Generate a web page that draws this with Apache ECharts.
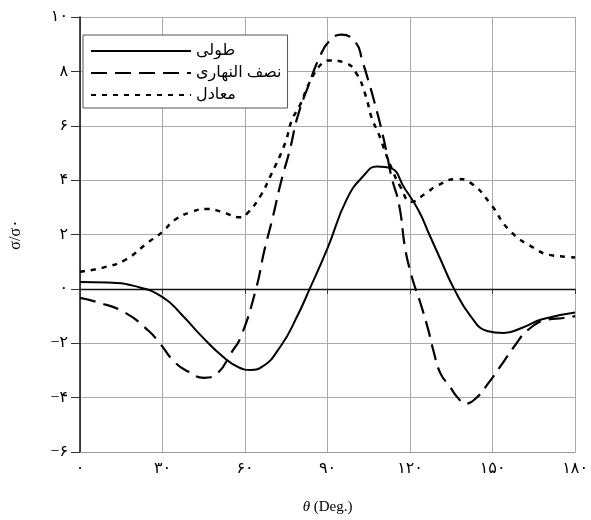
<!DOCTYPE html>
<html>
<head>
<meta charset="utf-8">
<script src="https://cdn.jsdelivr.net/npm/echarts@6/dist/echarts.min.js"></script>
<style>
  html, body { margin: 0; padding: 0; background: #fff; }
  #chart { width: 591px; height: 520px; }
</style>
</head>
<body>
<div id="chart"></div>
<script>
// نام سری‌ها
const seriesNames = ["طولی", "نصف النهاری", "معادل"];

// tick labels (Persian digits)
const xTickLabels = { 0: "۰", 30: "۳۰", 60: "۶۰", 90: "۹۰", 120: "۱۲۰", 150: "۱۵۰", 180: "۱۸۰" };
const yTickLabels = { 10: "۱۰", 8: "۸", 6: "۶", 4: "۴", 2: "۲", 0: "۰", "-2": "−۲", "-4": "−۴", "-6": "−۶" };

// طولی (solid)
const solidX = [0, 10, 20, 30, 37, 44, 52, 58, 62, 66, 73, 79, 83.5, 90, 97, 103, 108, 113, 118, 123, 127, 131, 136, 142, 148, 154, 161, 168, 180];
const solidY = [0.25, 0.23, 0.1, -0.3, -0.95, -1.72, -2.5, -2.9, -2.98, -2.88, -2.1, -1.0, 0, 1.5, 3.3, 4.15, 4.5, 4.44, 3.7, 2.9, 2.0, 1.1, 0, -1.0, -1.55, -1.62, -1.42, -1.12, -0.87];

// نصف النهاری (dashed)
const dashX = [0, 6, 16, 25, 29, 34.5, 39.5, 45, 50, 55, 58.5, 64, 67, 70, 73, 76.5, 79, 83.5, 87, 90.5, 95, 100.4, 102.6, 105, 107.5, 110, 111.5, 113.3, 116, 118.3, 120.5, 122, 123.7, 126.6, 128.4, 131, 134.5, 137.3, 140.2, 144.5, 148, 152.7, 157.8, 163, 169.6, 175.7, 180];
const dashY = [-0.33, -0.48, -0.85, -1.55, -2.0, -2.7, -3.05, -3.27, -3.1, -2.35, -1.76, 0, 1.4, 2.6, 3.9, 5.2, 6.3, 7.6, 8.5, 9.1, 9.35, 9.04, 8.4, 7.6, 6.7, 5.7, 5.0, 4.1, 3.1, 1.43, 0.5, 0, -0.5, -1.5, -2.24, -3.1, -3.6, -4.0, -4.22, -3.97, -3.53, -2.87, -2.13, -1.5, -1.14, -1.07, -1.0];

// معادل (dotted)
const dotX = [0, 9, 16.5, 25, 30, 34.5, 40.5, 46.5, 51, 58.5, 61, 65.5, 69, 74.6, 77, 80, 83.5, 88, 90.7, 96.8, 100.8, 104, 106, 108.6, 110.4, 113, 116.5, 120.5, 125.5, 130, 137, 142, 149, 156, 165, 170.7, 176.8, 180];
const dotY = [0.63, 0.8, 1.07, 1.73, 2.1, 2.54, 2.83, 2.94, 2.85, 2.63, 2.8, 3.4, 4.1, 5.37, 6.2, 6.76, 7.6, 8.3, 8.4, 8.3, 7.87, 7.06, 6.3, 5.7, 5.2, 4.5, 3.75, 3.2, 3.5, 3.8, 4.04, 3.9, 3.16, 2.17, 1.5, 1.25, 1.18, 1.15];

function zip(xs, ys) {
  return xs.map((x, i) => [x, ys[i]]);
}

const font = "'Liberation Serif', 'DejaVu Serif', 'DejaVu Sans', serif";

const myChart = echarts.init(document.getElementById("chart"));
myChart.setOption({
  animation: false,
  backgroundColor: "#fff",
  textStyle: { fontFamily: font },
  grid: { left: 77, right: 12, top: 17, bottom: 68 },
  legend: {
    orient: "vertical",
    left: 83,
    top: 35,
    itemWidth: 100,
    itemHeight: 14,
    itemGap: 6,
    padding: [8, 6, 5, 7],
    borderColor: "#555",
    borderWidth: 1,
    backgroundColor: "#fff",
    itemStyle: { opacity: 0 },
    data: seriesNames,
    textStyle: { fontFamily: font, fontSize: 16, color: "#000", padding: [0, 0, 5, 0] },
  },
  xAxis: [
    {
      type: "value",
      min: 0,
      max: 180,
      interval: 30,
      axisLine: { onZero: false, lineStyle: { color: "#999", width: 1 } },
      axisTick: { show: false },
      axisLabel: {
        color: "#000",
        fontSize: 16,
        margin: 9,
        formatter: (v) => xTickLabels[v] ?? "",
      },
      splitLine: { show: true, lineStyle: { color: "#aaa", width: 1 } },
      name: "{i|θ} (Deg.)",
      nameLocation: "middle",
      nameGap: 48,
      nameTextStyle: {
        color: "#000",
        fontSize: 15,
        rich: { i: { fontStyle: "italic", fontSize: 15, fontFamily: font } },
      },
    },
    {
      type: "value",
      min: 0,
      max: 180,
      interval: 30,
      position: "bottom",
      axisLine: { onZero: true, lineStyle: { color: "#111", width: 1.3 } },
      axisTick: { show: true, length: 5, lineStyle: { color: "#333" } },
      axisLabel: { show: false },
      splitLine: { show: false },
    },
  ],
  yAxis: {
    type: "value",
    min: -6,
    max: 10,
    interval: 2,
    axisLine: { show: true, lineStyle: { color: "#111", width: 1.5 } },
    axisTick: { show: true, length: 9, lineStyle: { color: "#333" } },
    axisLabel: {
      color: "#000",
      fontSize: 16,
      margin: 12,
      formatter: (v) => yTickLabels[v] ?? "",
    },
    splitLine: { show: true, lineStyle: { color: "#aaa", width: 1 } },
    name: "σ/σ۰",
    nameLocation: "middle",
    nameGap: 56,
    nameRotate: 90,
    nameTextStyle: { color: "#000", fontSize: 16 },
  },
  series: [
    {
      name: seriesNames[0],
      type: "line",
      data: zip(solidX, solidY),
      smooth: 0.5,
      symbol: "none",
      itemStyle: { color: "#000" },
      lineStyle: { color: "#000", width: 2, type: "solid" },
    },
    {
      name: seriesNames[1],
      type: "line",
      data: zip(dashX, dashY),
      smooth: 0.5,
      symbol: "none",
      itemStyle: { color: "#000" },
      lineStyle: { color: "#000", width: 2.2, type: [16, 8] },
    },
    {
      name: seriesNames[2],
      type: "line",
      data: zip(dotX, dotY),
      smooth: 0.5,
      symbol: "none",
      itemStyle: { color: "#000" },
      lineStyle: { color: "#000", width: 2.5, type: [5, 6] },
    },
  ],
});
</script>
</body>
</html>
